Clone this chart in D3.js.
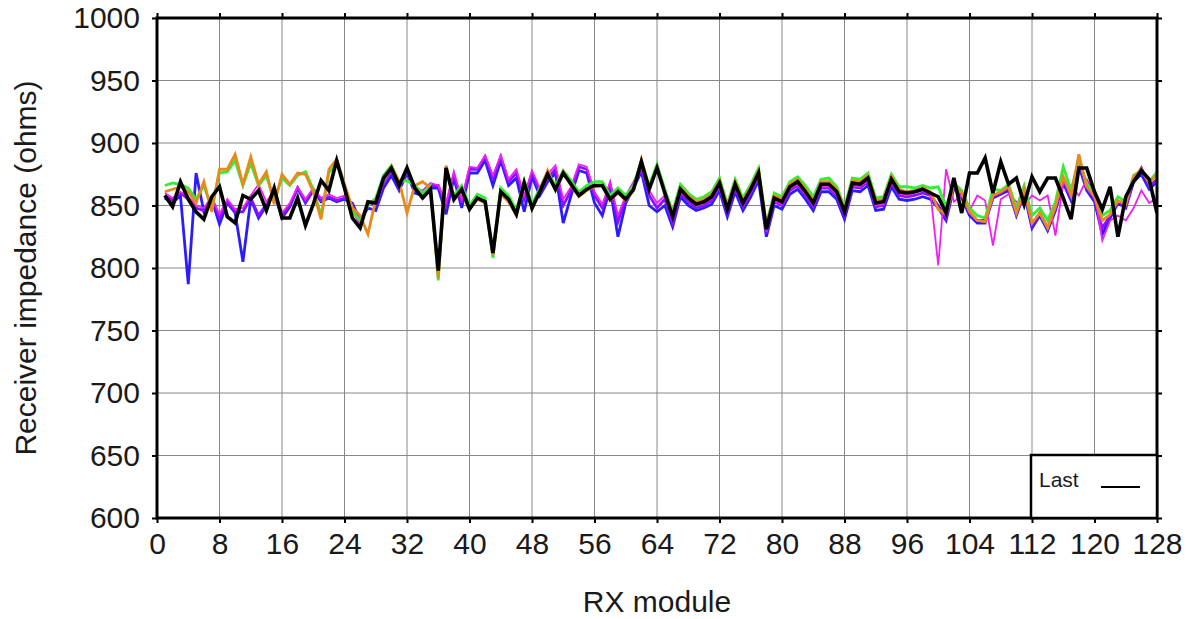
<!DOCTYPE html>
<html>
<head>
<meta charset="utf-8">
<script src="https://cdn.jsdelivr.net/npm/d3@7"></script>
<style>
  html, body { margin: 0; padding: 0; background: #fff; }
  svg { display: block; }
  text { font-family: "Liberation Sans", Arial, Helvetica, sans-serif; fill: #1a1a1a; }
</style>
</head>
<body>
<svg id="chart" width="1196" height="619"></svg>
<script>
// ---------------- data ----------------
const modules = d3.range(1, 129);               // RX module numbers 1..128
const xTicks = [0, 8, 16, 24, 32, 40, 48, 56, 64, 72, 80, 88, 96, 104, 112, 120, 128];
const yTicks = [600, 650, 700, 750, 800, 850, 900, 950, 1000];

const blueSeries = [
  856,852,858,787,876,845,855,835,852,844,
  805,855,840,850,861,840,849,864,852,862,
  853,856,853,855,852,838,848,846,864,874,
  862,876,860,858,864,864,843,872,848,876,
  876,886,866,886,866,872,845,873,858,869,
  876,836,858,878,876,852,842,864,825,852,
  864,877,850,845,850,833,857,850,846,848,
  851,862,841,861,846,857,870,825,850,847,
  859,863,855,846,861,861,855,839,862,861,
  866,846,847,865,855,854,855,857,855,848,
  838,864,856,842,836,836,856,859,862,842,
  860,832,842,830,846,868,854,882,862,853,
  827,840,852,848,869,875,863,869
];
const purpleSeries = [
  858,854,860,855,848,846,856,840,853,845,
  845,856,842,851,861,842,850,864,853,863,
  854,857,854,856,850,836,852,850,868,878,
  864,878,862,860,866,866,850,875,852,879,
  879,889,872,889,869,876,855,876,861,872,
  879,850,862,881,879,858,848,867,837,856,
  867,879,858,848,855,836,860,853,848,850,
  854,865,844,864,849,860,873,828,853,850,
  862,866,858,849,864,864,858,842,865,864,
  869,849,850,868,858,857,858,860,858,850,
  840,866,858,844,838,838,857,860,864,844,
  862,834,844,832,848,870,856,884,864,855,
  832,842,853,849,870,880,865,871
];
const magentaSeries = [
  860,856,861,857,850,848,857,843,855,847,
  848,858,867,853,862,844,852,865,855,864,
  856,859,856,858,846,834,852,852,870,880,
  866,878,864,862,868,866,852,877,855,881,
  880,890,874,890,871,879,858,878,864,875,
  882,855,865,883,881,861,851,869,842,858,
  869,881,862,852,858,838,861,855,850,852,
  856,866,846,865,851,861,874,829,854,851,
  863,867,859,850,865,865,859,843,866,865,
  870,850,851,869,860,858,860,862,860,802,
  879,853,858,846,858,854,818,855,859,853,
  850,858,854,858,826,868,866,858,871,860,
  822,838,842,838,848,862,852,856
];
const greenSeries = [
  866,868,867,864,855,866,848,876,877,886,
  866,884,866,874,854,872,866,874,877,863,
  842,876,884,864,845,838,850,856,874,882,
  869,870,866,860,866,790,881,858,866,850,
  859,856,808,864,858,846,870,851,864,877,
  866,878,870,861,866,869,869,858,864,858,
  866,886,866,883,863,845,867,860,855,857,
  861,872,851,871,856,867,880,835,860,857,
  869,873,866,857,871,872,865,849,872,871,
  876,856,857,875,865,865,864,866,864,865,
  849,868,862,848,842,840,863,862,867,848,
  866,842,848,838,853,881,862,887,867,860,
  842,846,857,853,874,878,869,877
];
const orangeSeries = [
  861,863,865,861,852,869,845,879,879,891,
  867,889,867,877,851,875,867,876,875,861,
  839,879,887,867,848,842,827,855,870,881,
  869,844,866,869,864,792,882,854,862,847,
  855,852,810,859,853,842,869,847,862,878,
  862,877,866,857,862,865,866,854,860,854,
  862,887,864,881,861,843,864,858,853,855,
  859,870,849,869,854,865,878,833,858,855,
  867,871,863,854,869,869,863,847,870,869,
  874,854,855,873,863,861,862,864,861,847,
  843,866,860,845,838,837,858,861,865,844,
  863,836,844,832,849,873,858,891,865,857,
  838,843,854,851,873,879,868,875
];
const lastSeries = [
  858,849,869,855,845,839,857,865,841,836,
  858,855,862,846,864,840,840,856,834,851,
  870,862,886,864,840,832,853,852,872,880,
  866,880,864,856,863,798,880,855,863,847,
  856,853,812,861,855,843,868,848,861,875,
  863,876,867,858,863,866,866,855,861,855,
  863,885,863,880,860,841,863,856,851,853,
  857,868,847,867,852,863,876,831,856,853,
  865,869,861,852,867,867,861,845,868,867,
  872,852,853,871,861,860,861,863,860,857,
  844,872,844,876,876,888,860,885,867,872,
  851,873,861,872,872,856,839,880,880,861,
  847,865,825,857,869,878,871,844
];

const seriesList = [
  { name: "blue",    values: blueSeries,    color: "#2a1cff", width: 2.8 },
  { name: "purple",  values: purpleSeries,  color: "#8a10ff", width: 2.8 },
  { name: "magenta", values: magentaSeries, color: "#f020f0", width: 1.8 },
  { name: "green",   values: greenSeries,   color: "#33ee33", width: 2.8 },
  { name: "orange",  values: orangeSeries,  color: "#e8891c", width: 2.8 },
  { name: "Last",    values: lastSeries,    color: "#000000", width: 3.6 }
];

// ---------------- layout ----------------
const svg = d3.select("#chart");
const L = 157, R = 1157, T = 18, B = 518;

const x = d3.scaleLinear().domain([0, 128]).range([L, R]);
const y = d3.scaleLinear().domain([600, 1000]).range([B, T]);

// grid
const grid = svg.append("g").attr("stroke", "#888").attr("stroke-width", 1);
grid.selectAll("line.v").data(xTicks.slice(1, -1)).join("line")
  .attr("x1", d => x(d)).attr("x2", d => x(d)).attr("y1", T).attr("y2", B);
grid.selectAll("line.h").data(yTicks.slice(1, -1)).join("line")
  .attr("x1", L).attr("x2", R).attr("y1", d => y(d)).attr("y2", d => y(d));

// series lines
const line = d3.line().x((d, i) => x(modules[i])).y(d => y(d));
svg.append("clipPath").attr("id", "plotclip")
  .append("rect").attr("x", L).attr("y", T).attr("width", R - L).attr("height", B - T);
const lines = svg.append("g").attr("clip-path", "url(#plotclip)");
seriesList.forEach(s => {
  lines.append("path")
    .datum(s.values)
    .attr("fill", "none")
    .attr("stroke", s.color)
    .attr("stroke-width", s.width)
    .attr("stroke-linejoin", "miter")
    .attr("stroke-miterlimit", 4)
    .attr("d", line);
});

// axes
const fontSize = 30;
const axL = svg.append("g").attr("transform", `translate(${L},0)`)
  .call(d3.axisLeft(y).tickValues(yTicks).tickSize(5).tickPadding(12).tickFormat(d3.format("d")));
const axB = svg.append("g").attr("transform", `translate(0,${B})`)
  .call(d3.axisBottom(x).tickValues(xTicks).tickSize(5).tickPadding(10).tickFormat(d3.format("d")));
const axR = svg.append("g").attr("transform", `translate(${R},0)`)
  .call(d3.axisRight(y).tickValues(yTicks).tickSize(5).tickFormat(""));
const axT = svg.append("g").attr("transform", `translate(0,${T})`)
  .call(d3.axisTop(x).tickValues(xTicks).tickSize(5).tickFormat(""));
[axL, axB, axR, axT].forEach(a => {
  a.select(".domain").remove();
  a.selectAll(".tick line").attr("stroke", "#000").attr("stroke-width", 2);
  a.selectAll(".tick text").attr("font-size", fontSize)
    .attr("font-family", '"Liberation Sans", Arial, sans-serif').attr("fill", "#1a1a1a");
});

// frame
svg.append("rect").attr("x", L).attr("y", T).attr("width", R - L).attr("height", B - T)
  .attr("fill", "none").attr("stroke", "#000").attr("stroke-width", 3);

// axis titles
svg.append("text").attr("x", (L + R) / 2).attr("y", 612)
  .attr("text-anchor", "middle").attr("font-size", 30).text("RX module");
svg.append("text").attr("transform", `translate(36,${(T + B) / 2}) rotate(-90)`)
  .attr("text-anchor", "middle").attr("font-size", 30).text("Receiver impedance (ohms)");

// legend
const lg = svg.append("g");
lg.append("rect").attr("x", 1031).attr("y", 455).attr("width", R - 1031).attr("height", B - 455)
  .attr("fill", "#fff").attr("stroke", "#000").attr("stroke-width", 2.5);
lg.append("text").attr("x", 1039).attr("y", 487).attr("font-size", 21).text("Last");
lg.append("line").attr("x1", 1101).attr("x2", 1140).attr("y1", 487).attr("y2", 487)
  .attr("stroke", "#000").attr("stroke-width", 2);
</script>
</body>
</html>
